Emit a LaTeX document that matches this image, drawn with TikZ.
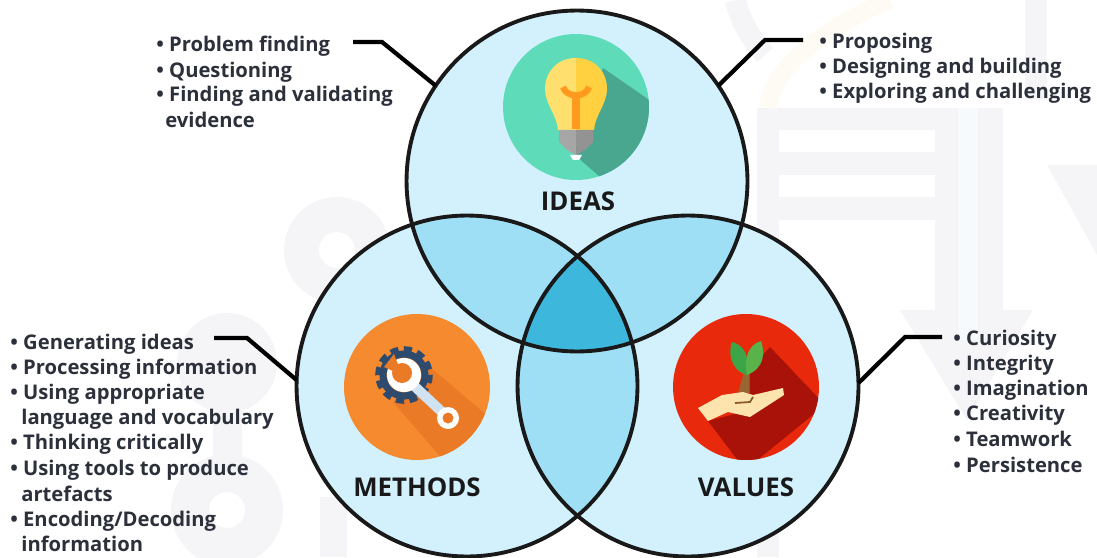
\documentclass[tikz,border=0pt]{standalone}
\usepackage{xcolor}
\usepackage{fontspec}
\setmainfont{Open Sans}
\definecolor{vennbase}{HTML}{D2F1FD}
\definecolor{venntwo}{HTML}{9FDFF6}
\definecolor{vennthree}{HTML}{3DB8DC}
\definecolor{inktext}{HTML}{2B303A}
\definecolor{faintmark}{HTML}{F5F5F8}
\definecolor{faintblue}{HTML}{F7FAFD}
\definecolor{faintcream}{HTML}{FDFBF3}
\definecolor{bulbteal}{HTML}{5EDCB9}
\definecolor{bulbshade}{HTML}{4AA78F}
\definecolor{bulbleft}{HTML}{FFDF6E}
\definecolor{bulbright}{HTML}{FFD040}
\definecolor{bulbwire}{HTML}{FF9A1F}
\definecolor{gearorange}{HTML}{F58A2E}
\definecolor{gearshade}{HTML}{EB7A26}
\definecolor{gearblue}{HTML}{2E4A6D}
\definecolor{wrenchblue}{HTML}{CFE3F2}
\definecolor{handred}{HTML}{E8290B}
\definecolor{handshade}{HTML}{A81208}
\definecolor{handskin}{HTML}{FDE3AE}
\definecolor{leafleft}{HTML}{3BA548}
\definecolor{leafright}{HTML}{5AB24A}
\tikzset{
    venn/.style={circle, draw=black!90, line width=2.2pt, minimum size=6.82cm, inner sep=0pt, outer sep=0pt},
    badge/.style={circle, minimum size=2.92cm, inner sep=0pt, outer sep=0pt},
    item/.style={anchor=west, yshift=-0.04cm, font=\bfseries\fontsize{11.5}{13}\selectfont, text=inktext, inner sep=0pt, text height=1.6ex, text depth=0.5ex},
    title/.style={font=\bfseries\fontsize{14.7}{16}\selectfont, text=black!90, inner sep=0pt},
    leader/.style={draw=black, line width=2.4pt}
}
\begin{document}
\begin{tikzpicture}[x=0.02cm, y=-0.02cm]
        \useasboundingbox (0, 0) rectangle (1097, 557);

        % watermark
        \fill[faintmark, even odd rule] (337, 250) circle (53) (337, 250) circle (18);
        \fill[faintmark] (227, 363) circle (50);
        \fill[faintmark] (213, 363) rectangle (242, 480);
        \fill[faintmark, even odd rule] (227, 510) circle (56) (227, 510) circle (18);
        \fill[faintmark] (320, 497) rectangle (347, 557);
        \fill[faintmark] (757, 108) rectangle (935, 130);
        \fill[faintmark] (757, 152) rectangle (935, 175);
        \fill[faintmark] (757, 197) rectangle (935, 220);
        \fill[faintmark] (757, 108) rectangle (779, 557);
        \fill[faintmark] (935, 108) rectangle (1003, 312);
        \fill[faintmark] (900, 310) -- (1033, 310) -- (967, 420) -- cycle;
        \fill[faintblue] (958, 108) rectangle (978, 340);
        \fill[faintmark] (1047, 165) -- (1097, 165) -- (1097, 255) -- cycle;
        \draw[faintcream, line width=10pt] (768, 108) .. controls (772, 65) and (830, 25) .. (890, 0);
        \draw[faintmark, line width=12pt] (735, 0) .. controls (742, 25) and (752, 40) .. (765, 55);
        \draw[faintmark, line width=12pt] (1036, 0) -- (1036, 100);

        % circles
        \fill[vennbase] (577, 181) circle (170);
        \fill[vennbase] (467, 386) circle (171);
        \fill[vennbase] (688, 386) circle (171);
        \begin{scope}
            \clip (577, 181) circle (170);
            \fill[venntwo] (467, 386) circle (171);
            \fill[venntwo] (688, 386) circle (171);
        \end{scope}
        \begin{scope}
            \clip (467, 386) circle (171);
            \fill[venntwo] (688, 386) circle (171);
            \clip (688, 386) circle (171);
            \fill[vennthree] (577, 181) circle (170);
        \end{scope}
        \node[venn] (ideas) at (577, 181) {};
        \node[venn] (methods) at (467, 386) {};
        \node[venn] (values) at (688, 386) {};

        % bulb
        \node[badge, fill=bulbteal] (bulbbadge) at (576, 107) {};
        \begin{scope}
            \clip (576, 107) circle (73);
            \fill[bulbshade] (603, 68) -- (655, 104) -- (650, 190) -- (600, 177) -- (575, 155) -- cycle;
        \end{scope}
        \fill[bulbright] (576, 58) .. controls (595, 58) and (607, 72) .. (607, 89) .. controls (607, 104) and (595, 115) .. (594, 130) -- (576, 130) -- cycle;
        \fill[bulbleft] (576, 58) .. controls (557, 58) and (545, 72) .. (545, 89) .. controls (545, 104) and (557, 115) .. (558, 130) -- (576, 130) -- cycle;
        \draw[bulbwire, line width=4.2pt] (576, 129) -- (576, 98);
        \draw[bulbwire, line width=3.6pt] (563, 87) .. controls (566, 98) and (586, 98) .. (589, 87);
        \fill[gray!70] (559, 130) -- (576, 130) -- (576, 155) -- (567, 150) -- (559, 142) -- cycle;
        \fill[gray!85] (593, 130) -- (576, 130) -- (576, 155) -- (585, 150) -- (593, 142) -- cycle;
        \fill[white] (570, 155) -- (582, 155) -- (579, 160) -- (573, 160) -- cycle;

        % gear and wrench
        \node[badge, fill=gearorange] (gearbadge) at (417, 387) {};
        \begin{scope}
            \clip (417, 387) circle (73);
            \fill[gearshade] (430, 367) -- (490, 418) -- (445, 462) -- (393, 402) -- cycle;
        \end{scope}
        \draw[gearblue, line width=3.2pt, dash pattern=on 4.6pt off 3.13pt] (404, 375) circle (26);
        \draw[gearblue, line width=4pt] (404, 375) circle (21);
        \draw[wrenchblue, line width=5.7pt] (410, 382) -- (442, 412);
        \fill[white] (404, 375) circle (17);
        \fill[gearshade] (402, 373) circle (10);
        \fill[gearshade] (402, 375) -- (384, 367) -- (394, 354) -- cycle;
        \fill[white] (448, 418) circle (11);
        \fill[gearshade] (448, 418) circle (5.5);

        % plant and hand
        \node[badge, fill=handred] (handbadge) at (746, 387) {};
        \begin{scope}
            \clip (746, 387) circle (73);
            \fill[handshade] (770, 347) -- (825, 405) -- (745, 470) -- (708, 421) -- (750, 410) -- (750, 370) -- cycle;
        \end{scope}
        \fill[brown!80!black] (744, 372) -- (749, 372) -- (749, 393) -- (738, 393) -- cycle;
        \fill[leafleft] (747, 375) .. controls (730, 370) and (728, 352) .. (732, 342) .. controls (745, 345) and (750, 358) .. (747, 375) -- cycle;
        \fill[leafright] (747, 375) .. controls (765, 368) and (765, 352) .. (761, 341) .. controls (748, 345) and (744, 358) .. (747, 375) -- cycle;
        \fill[handskin] (698, 408) -- (722, 395) -- (743, 392) -- (753, 395) -- (783, 388) -- (784, 395) -- (750, 417) -- (728, 412) -- (708, 421) -- cycle;
        \draw[brown!70!black, line width=1pt] (735, 403) -- (750, 402) -- (753, 397);

        % labels
        \node[title] (ideaslabel) at (578, 201) {IDEAS};
        \node[title] (methodslabel) at (417, 487) {METHODS};
        \node[title] (valueslabel) at (746, 487) {VALUES};

        % top left list
        \node[item] (finding) at (156, 44) {• Problem finding};
        \node[item] at (156, 70) {• Questioning};
        \node[item] at (156, 94) {• Finding and validating};
        \node[item] at (165, 120) {evidence};

        % top right list
        \node[item] (proposing) at (819, 41) {• Proposing};
        \node[item] at (819, 66) {• Designing and building};
        \node[item] at (819, 91) {• Exploring and challenging};

        % bottom left list
        \node[item] (generating) at (10, 342) {• Generating ideas};
        \node[item] at (10, 367) {• Processing information};
        \node[item] at (10, 392) {• Using appropriate};
        \node[item] at (21, 417) {language and vocabulary};
        \node[item] at (10, 442) {• Thinking critically};
        \node[item] at (10, 468) {• Using tools to produce};
        \node[item] at (21, 494) {artefacts};
        \node[item] at (10, 519) {• Encoding/Decoding};
        \node[item] at (21, 544) {information};

        % bottom right list
        \node[item] (curiosity) at (953, 338) {• Curiosity};
        \node[item] at (953, 363) {• Integrity};
        \node[item] at (953, 388) {• Imagination};
        \node[item] at (953, 413) {• Creativity};
        \node[item] at (953, 439) {• Teamwork};
        \node[item] at (953, 465) {• Persistence};

        % leaders
        \coordinate (startA) at (353, 42);
        \coordinate (kneeA) at (382, 42);
        \coordinate (startB) at (803, 40);
        \coordinate (kneeB) at (765, 40);
        \coordinate (startC) at (214, 338);
        \coordinate (kneeC) at (247, 338);
        \coordinate (startD) at (942, 337);
        \coordinate (kneeD) at (905, 337);
        \draw[leader] (startA) -- (kneeA) -- (ideas.146);
        \draw[leader] (startB) -- (kneeB) -- (ideas.34.5);
        \draw[leader] (startC) -- (kneeC) -- (methods.178);
        \draw[leader] (startD) -- (kneeD) -- (values.1);
    \end{tikzpicture}
\end{document}
